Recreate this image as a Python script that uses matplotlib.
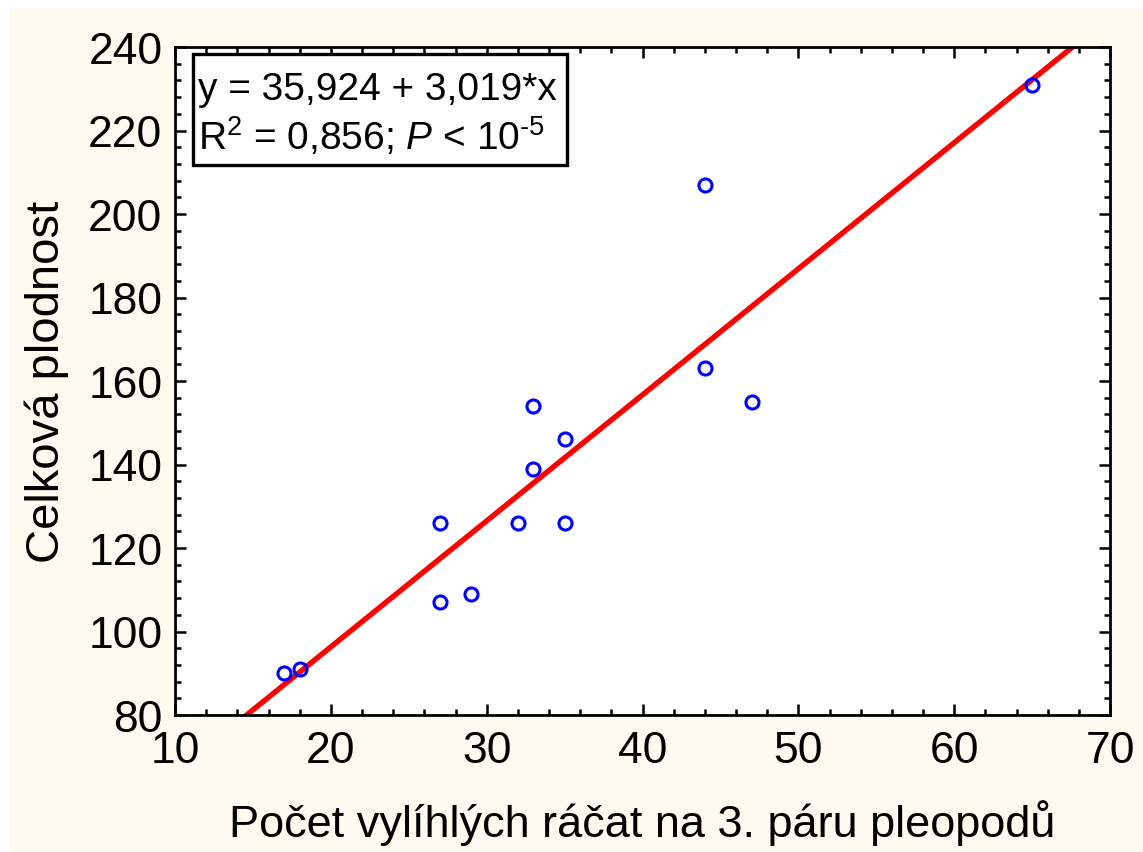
import numpy as np
import matplotlib
matplotlib.use("Agg")
import matplotlib.pyplot as plt
from matplotlib.patches import Rectangle
from matplotlib.ticker import MultipleLocator

plt.rcParams['font.family'] = ['Liberation Sans', 'DejaVu Sans']
plt.rcParams['mathtext.fontset'] = 'custom'
plt.rcParams['mathtext.rm'] = 'Liberation Sans'
plt.rcParams['mathtext.it'] = 'Liberation Sans:italic'

# Observations: hatched juveniles on the 3rd pleopod pair vs. total fecundity
hatched = [17, 18, 27, 27, 29, 32, 33, 33, 35, 35, 44, 44, 47, 65]
fecundity = [90, 91, 126, 107, 109, 126, 139, 154, 146, 126, 207, 163, 155, 231]

# Fitted regression line
intercept = 35.924
slope = 3.019

x_ticks = [10, 20, 30, 40, 50, 60, 70]
y_ticks = [80, 100, 120, 140, 160, 180, 200, 220, 240]

fig = plt.figure(figsize=(11.43, 8.53), dpi=100)
fig.patch.set_facecolor('white')
# cream panel behind the plot
fig.patches.append(plt.Rectangle((9 / 1143, 0), 1 - 9 / 1143, 1 - 9 / 853,
                                 transform=fig.transFigure, facecolor='#FEFAF0',
                                 edgecolor='none', zorder=-10))

ax = fig.add_axes([175 / 1143, 1 - 716 / 853, 935 / 1143, 668 / 853])
ax.set_facecolor('white')

ax.set_xlim(10, 70)
ax.set_ylim(80, 240)

xs = np.array([10, 70])
ax.plot(xs, intercept + slope * xs, color='#FF0000', lw=3.9, zorder=2,
        solid_capstyle='butt')
ax.plot(hatched, fecundity, linestyle='none', marker='o', ms=9.4,
        mfc='none', mec='#0000FF', mew=2.2, zorder=3)

ax.set_xticks(x_ticks)
ax.set_yticks(y_ticks)
ax.xaxis.set_minor_locator(MultipleLocator(2))
ax.yaxis.set_minor_locator(MultipleLocator(4))
ax.tick_params(which='both', direction='in', top=True, right=True,
               width=1.8, color='black')
ax.tick_params(which='major', length=8, labelsize=32)
ax.tick_params(axis='x', which='major', pad=11)
ax.tick_params(axis='y', which='major', pad=9)
ax.tick_params(which='minor', length=4)
for s in ax.spines.values():
    s.set_linewidth(2.0)

ax.set_xlabel('Počet vylíhlých ráčat na 3. páru pleopodů', fontsize=32.5, labelpad=20)
ax.set_ylabel('Celková plodnost', fontsize=34, labelpad=14)

# regression summary box
ax.add_patch(Rectangle((0.0193, 0.823), 0.4, 0.1665, transform=ax.transAxes,
                       facecolor='white', edgecolor='black', linewidth=2.4,
                       zorder=5))
ax.text(0.0246, 0.922, 'y = 35,924 + 3,019*x', transform=ax.transAxes,
        ha='left', va='baseline', fontsize=28, zorder=6)
ax.text(0.0246, 0.847, r'R$^2$ = 0,856; $P$ < 10$^{\text{-}5}$',
        transform=ax.transAxes, ha='left', va='baseline', fontsize=28, zorder=6)

fig.savefig('out.png', dpi=100)
